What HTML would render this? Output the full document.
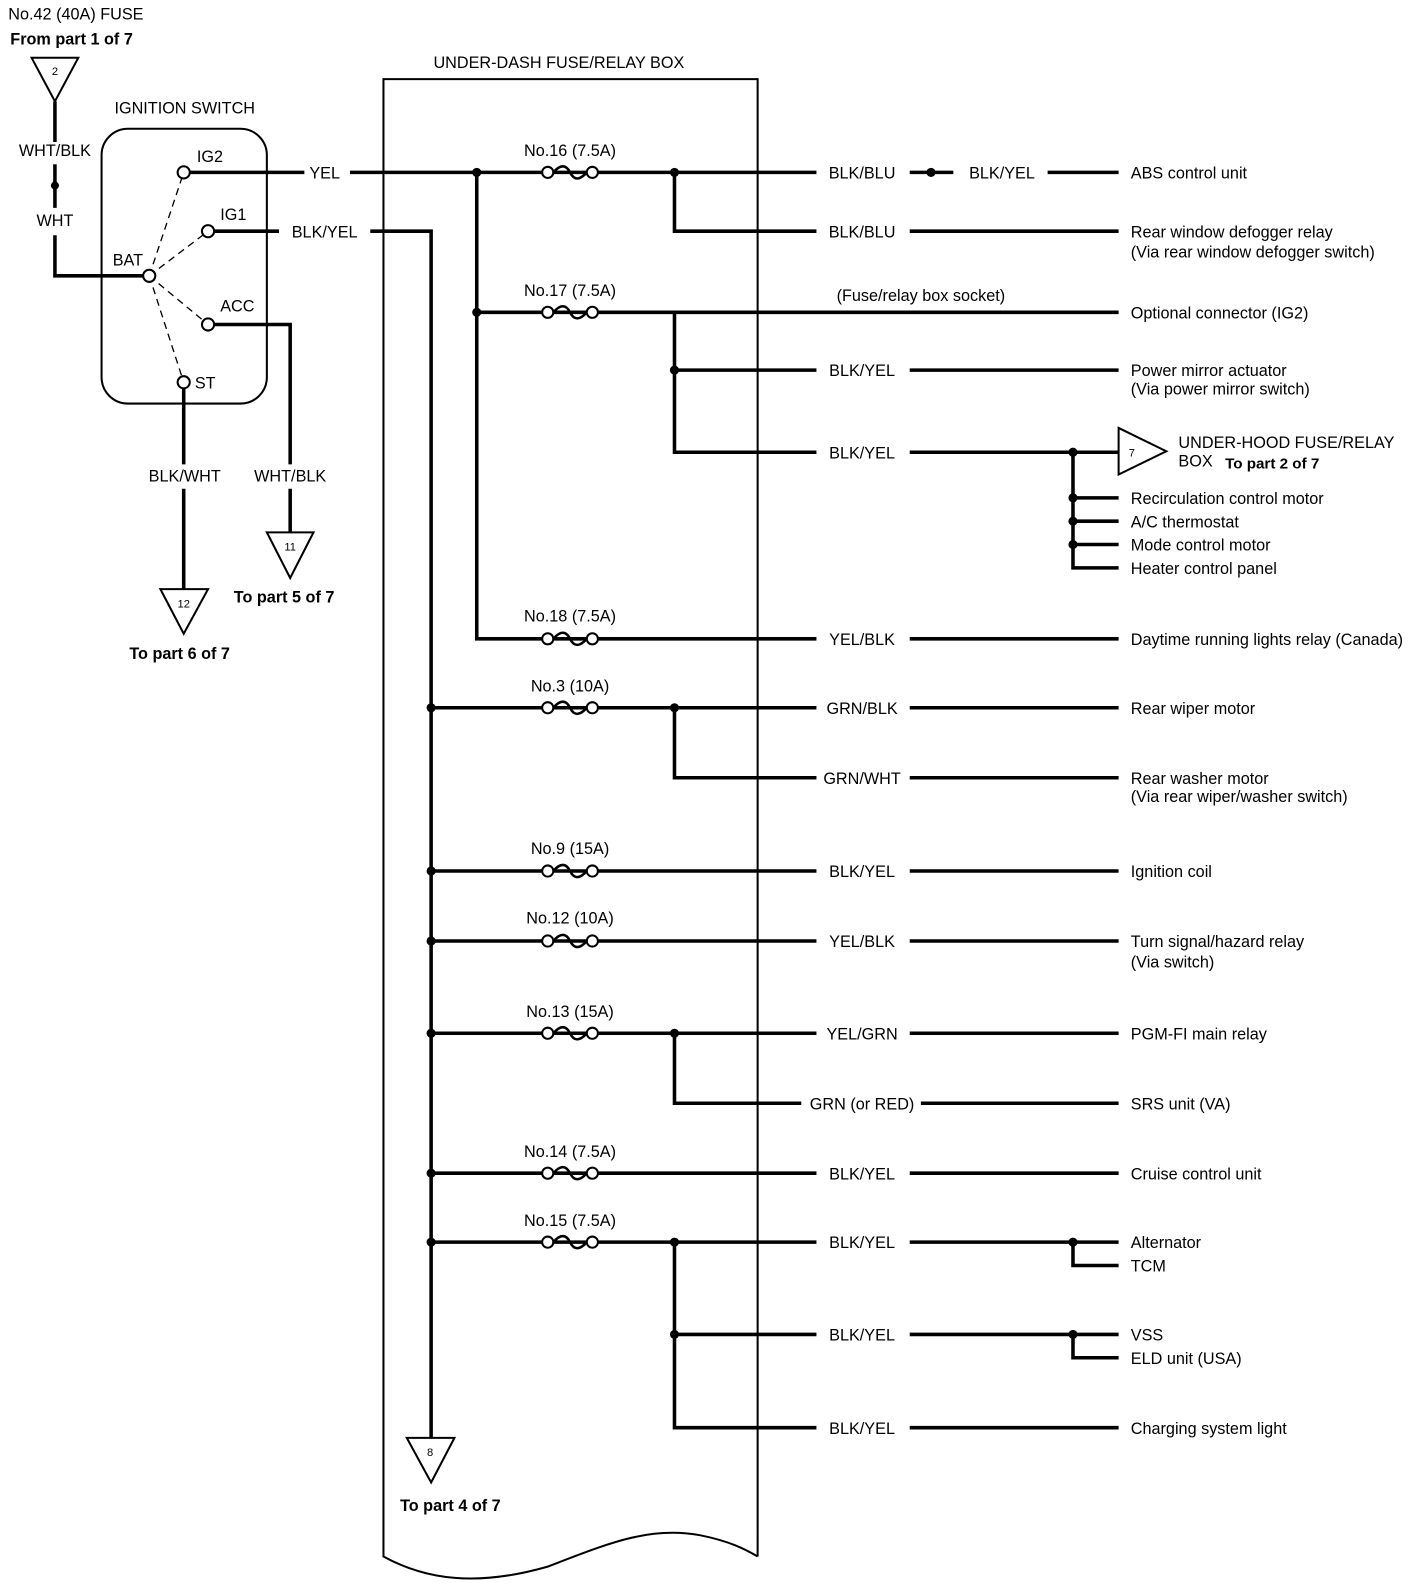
<!DOCTYPE html>
<html><head><meta charset="utf-8"><style>
html,body{margin:0;padding:0;background:#fff;}
svg{display:block;}
text{font-family:"Liberation Sans",sans-serif;font-size:16px;fill:#000;}
.b{font-weight:bold;}
.w{stroke:#000;stroke-width:3.5;fill:none;}
.t{stroke:#000;stroke-width:2;fill:none;}
.d{stroke:#000;stroke-width:1.3;fill:none;stroke-dasharray:7,5;}
</style></head><body>
<svg width="1424" height="1594" viewBox="0 0 1404 1572" xmlns="http://www.w3.org/2000/svg">
<rect x="0" y="0" width="1404" height="1572" fill="#fff"/>
<defs>
<g id="fuse"><circle cx="-22" cy="0" r="5.5" fill="#fff" stroke="#000" stroke-width="2"/><circle cx="22" cy="0" r="5.5" fill="#fff" stroke="#000" stroke-width="2"/><path d="M-16.5 0 Q-6 -12 0 0 Q6 12 16.5 0" stroke="#000" stroke-width="2.5" fill="none"/></g>
</defs>

<!-- top-left -->
<text x="8" y="19">No.42 (40A) FUSE</text>
<text x="10" y="44" class="b">From part 1 of 7</text>
<polygon points="31,57 77,57 54,100" class="t"/>
<text x="54" y="74" text-anchor="middle" style="font-size:11px">2</text>
<path d="M54 100 V140 M54 162 V205 M54 232 V272 H147" class="w"/>
<circle cx="54" cy="183" r="4"/>
<text x="54" y="154" text-anchor="middle">WHT/BLK</text>
<text x="54" y="223" text-anchor="middle">WHT</text>

<text x="182" y="112" text-anchor="middle">IGNITION SWITCH</text>
<rect x="100" y="127" width="163" height="271" rx="26" class="t"/>
<path d="M147 272 L181 170 M147 272 L205 228 M147 272 L205 320 M147 272 L181 377" class="d"/>
<path d="M186 170 H300 M211 228 H275 M211 320 H286 V458 M286 482 V525 M181 383 V458 M181 482 V581" class="w"/>
<circle cx="181" cy="170" r="6" fill="#fff" stroke="#000" stroke-width="2"/>
<circle cx="205" cy="228" r="6" fill="#fff" stroke="#000" stroke-width="2"/>
<circle cx="147" cy="272" r="6" fill="#fff" stroke="#000" stroke-width="2"/>
<circle cx="205" cy="320" r="6" fill="#fff" stroke="#000" stroke-width="2"/>
<circle cx="181" cy="377" r="6" fill="#fff" stroke="#000" stroke-width="2"/>
<text x="194" y="160">IG2</text>
<text x="217" y="217">IG1</text>
<text x="111" y="262">BAT</text>
<text x="217" y="307">ACC</text>
<text x="192" y="383">ST</text>
<text x="320" y="176" text-anchor="middle">YEL</text>
<text x="320" y="234" text-anchor="middle">BLK/YEL</text>
<text x="286" y="475" text-anchor="middle">WHT/BLK</text>
<text x="182" y="475" text-anchor="middle">BLK/WHT</text>
<polygon points="263,525 309,525 286,570" class="t"/>
<text x="286" y="543" text-anchor="middle" style="font-size:11px">11</text>
<text x="280" y="594" text-anchor="middle" class="b">To part 5 of 7</text>
<polygon points="158,581 205,581 181,625" class="t"/>
<text x="181" y="599" text-anchor="middle" style="font-size:11px">12</text>
<text x="177" y="650" text-anchor="middle" class="b">To part 6 of 7</text>

<!-- box -->
<text x="551" y="67" text-anchor="middle">UNDER-DASH FUSE/RELAY BOX</text>
<path d="M747 1535 V78 H378 V1535 C420 1558 470 1565 540 1545 C600 1522 640 1505 690 1514 C720 1520 735 1528 747 1535" class="t"/>

<!-- main wires -->
<path d="M345 170 H805 M365 228 H425 V1418 M470 170 V630 H805" class="w"/>
<circle cx="470" cy="170" r="4.5"/><circle cx="470" cy="308" r="4.5"/>
<circle cx="665" cy="170" r="4.5"/><circle cx="665" cy="365" r="4.5"/>
<path d="M665 170 V228 H805 M470 308 H1103 M665 308 V446 H805 M665 365 H805" class="w"/>
<polygon points="401,1418 448,1418 425,1462" class="t"/>
<text x="424" y="1436" text-anchor="middle" style="font-size:11px">8</text>
<text x="444" y="1490" text-anchor="middle" class="b">To part 4 of 7</text>

<path d="M425 698 H805 M665 698 V767 H805 M425 859 H805 M425 928 H805 M425 1019 H805 M665 1019 V1088 H790 M425 1157 H805 M425 1225 H805 M665 1225 V1408 H805 M665 1316 H805" class="w"/>
<circle cx="425" cy="698" r="4.5"/><circle cx="665" cy="698" r="4.5"/>
<circle cx="425" cy="859" r="4.5"/><circle cx="425" cy="928" r="4.5"/>
<circle cx="425" cy="1019" r="4.5"/><circle cx="665" cy="1019" r="4.5"/>
<circle cx="425" cy="1157" r="4.5"/><circle cx="425" cy="1225" r="4.5"/>
<circle cx="665" cy="1225" r="4.5"/><circle cx="665" cy="1316" r="4.5"/>

<!-- fuses -->
<use href="#fuse" x="562" y="170"/><text x="562" y="154" text-anchor="middle">No.16 (7.5A)</text>
<use href="#fuse" x="562" y="308"/><text x="562" y="292" text-anchor="middle">No.17 (7.5A)</text>
<use href="#fuse" x="562" y="630"/><text x="562" y="613" text-anchor="middle">No.18 (7.5A)</text>
<use href="#fuse" x="562" y="698"/><text x="562" y="682" text-anchor="middle">No.3 (10A)</text>
<use href="#fuse" x="562" y="859"/><text x="562" y="842" text-anchor="middle">No.9 (15A)</text>
<use href="#fuse" x="562" y="928"/><text x="562" y="911" text-anchor="middle">No.12 (10A)</text>
<use href="#fuse" x="562" y="1019"/><text x="562" y="1003" text-anchor="middle">No.13 (15A)</text>
<use href="#fuse" x="562" y="1157"/><text x="562" y="1141" text-anchor="middle">No.14 (7.5A)</text>
<use href="#fuse" x="562" y="1225"/><text x="562" y="1209" text-anchor="middle">No.15 (7.5A)</text>

<text x="908" y="297" text-anchor="middle">(Fuse/relay box socket)</text>

<!-- wire labels -->
<g text-anchor="middle">
<text x="850" y="176">BLK/BLU</text>
<text x="850" y="234">BLK/BLU</text>
<text x="850" y="371">BLK/YEL</text>
<text x="850" y="452">BLK/YEL</text>
<text x="850" y="636">YEL/BLK</text>
<text x="850" y="704">GRN/BLK</text>
<text x="850" y="773">GRN/WHT</text>
<text x="850" y="865">BLK/YEL</text>
<text x="850" y="934">YEL/BLK</text>
<text x="850" y="1025">YEL/GRN</text>
<text x="850" y="1094">GRN (or RED)</text>
<text x="850" y="1163">BLK/YEL</text>
<text x="850" y="1231">BLK/YEL</text>
<text x="850" y="1322">BLK/YEL</text>
<text x="850" y="1414">BLK/YEL</text>
<text x="988" y="176">BLK/YEL</text>
</g>

<!-- right wires -->
<path d="M897 170 H940 M1033 170 H1103 M897 228 H1103 M897 365 H1103 M897 446 H1103 M1058 446 V560 H1103 M1058 491 H1103 M1058 514 H1103 M1058 537 H1103 M897 630 H1103 M897 698 H1103 M897 767 H1103 M897 859 H1103 M897 928 H1103 M897 1019 H1103 M908 1088 H1103 M897 1157 H1103 M897 1225 H1103 M1058 1225 V1248 H1103 M897 1316 H1103 M1058 1316 V1339 H1103 M897 1408 H1103" class="w"/>
<circle cx="918" cy="170" r="4.5"/>
<circle cx="1058" cy="446" r="4.5"/><circle cx="1058" cy="491" r="4.5"/><circle cx="1058" cy="514" r="4.5"/><circle cx="1058" cy="537" r="4.5"/>
<circle cx="1058" cy="1225" r="4.5"/><circle cx="1058" cy="1316" r="4.5"/>
<polygon points="1103,422 1103,468 1150,445" fill="#fff" class="t"/>
<text x="1116" y="450" text-anchor="middle" style="font-size:11px">7</text>
<text x="1162" y="442">UNDER-HOOD FUSE/RELAY</text>
<text x="1162" y="460">BOX</text>
<text x="1208" y="462" class="b" style="font-size:15px">To part 2 of 7</text>

<g>
<text x="1115" y="176">ABS control unit</text>
<text x="1115" y="234">Rear window defogger relay</text>
<text x="1115" y="254">(Via rear window defogger switch)</text>
<text x="1115" y="314">Optional connector (IG2)</text>
<text x="1115" y="371">Power mirror actuator</text>
<text x="1115" y="389">(Via power mirror switch)</text>
<text x="1115" y="497">Recirculation control motor</text>
<text x="1115" y="520">A/C thermostat</text>
<text x="1115" y="543">Mode control motor</text>
<text x="1115" y="566">Heater control panel</text>
<text x="1115" y="636">Daytime running lights relay (Canada)</text>
<text x="1115" y="704">Rear wiper motor</text>
<text x="1115" y="773">Rear washer motor</text>
<text x="1115" y="791">(Via rear wiper/washer switch)</text>
<text x="1115" y="865">Ignition coil</text>
<text x="1115" y="934">Turn signal/hazard relay</text>
<text x="1115" y="954">(Via switch)</text>
<text x="1115" y="1025">PGM-FI main relay</text>
<text x="1115" y="1094">SRS unit (VA)</text>
<text x="1115" y="1163">Cruise control unit</text>
<text x="1115" y="1231">Alternator</text>
<text x="1115" y="1254">TCM</text>
<text x="1115" y="1322">VSS</text>
<text x="1115" y="1345">ELD unit (USA)</text>
<text x="1115" y="1414">Charging system light</text>
</g>
</svg>
</body></html>
